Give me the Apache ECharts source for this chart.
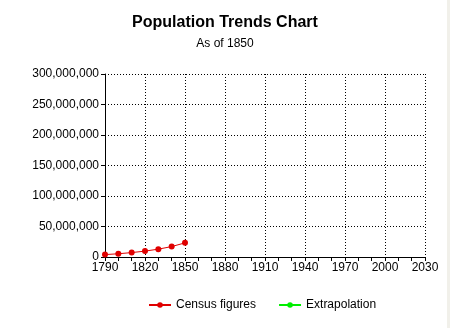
<!DOCTYPE html>
<html><head><meta charset="utf-8">
<script src="https://cdn.jsdelivr.net/npm/echarts@6/dist/echarts.min.js"></script>
<style>html,body{margin:0;padding:0;background:#fff}#c{width:450px;height:328px}</style>
</head><body><div id="c"></div>
<script>
const years = [1790, 1800, 1810, 1820, 1830, 1840, 1850];
const census = [3929214, 5308483, 7239881, 9638453, 12866020, 17069453, 23191876];
const extrapolationYears = [];
const extrapolation = [];
const xTicks = [1790, 1820, 1850, 1880, 1910, 1940, 1970, 2000, 2030];
const yTicks = [0, 50000000, 100000000, 150000000, 200000000, 250000000, 300000000];

const font = 'Liberation Sans, Arial, sans-serif';
const chart = echarts.init(document.getElementById('c'), null, {renderer: 'canvas'});
chart.setOption({
  animation: false,
  backgroundColor: '#fff',
  graphic: [{type: 'rect', right: 0, top: 0, shape: {width: 3, height: 328}, style: {fill: '#f1f0ea'}}],
  title: {
    text: 'Population Trends Chart', subtext: 'As of 1850', left: 'center', top: 10,
    itemGap: 7,
    textStyle: {fontFamily: font, fontSize: 16, fontWeight: 'bold', color: '#000'},
    subtextStyle: {fontFamily: font, fontSize: 12, color: '#000'}
  },
  legend: {
    bottom: 12, left: 143, itemWidth: 22, itemHeight: 7, itemGap: 22,
    textStyle: {fontFamily: font, fontSize: 12, color: '#000'},
    data: ['Census figures', 'Extrapolation']
  },
  grid: {left: 105, right: 25, top: 74, bottom: 71},
  xAxis: {
    type: 'value', min: xTicks[0], max: xTicks[xTicks.length - 1], interval: 30,
    axisLine: {lineStyle: {color: '#000', width: 1}},
    axisTick: {show: true, length: 4, lineStyle: {color: '#000'}},
    minorTick: {show: true, splitNumber: 3, length: 4, lineStyle: {color: '#000'}},
    axisLabel: {fontFamily: font, fontSize: 12, color: '#000', margin: 5, formatter: v => String(v)},
    splitLine: {show: true, lineStyle: {color: '#000', type: [1, 2], width: 1}}
  },
  yAxis: {
    type: 'value', min: yTicks[0], max: yTicks[yTicks.length - 1], interval: 50000000,
    axisLine: {show: true, lineStyle: {color: '#000', width: 1}},
    axisTick: {show: true, length: 4, lineStyle: {color: '#000'}},
    axisLabel: {fontFamily: font, fontSize: 12, color: '#000', margin: 6,
      formatter: v => v.toLocaleString('en-US')},
    splitLine: {show: true, lineStyle: {color: '#000', type: [1, 2], width: 1}}
  },
  series: [
    {name: 'Census figures', type: 'line', data: years.map((y, i) => [y, census[i]]),
     symbol: 'circle', symbolSize: 6, showAllSymbol: true,
     itemStyle: {color: '#e00000'}, lineStyle: {color: '#e00000', width: 1}},
    {name: 'Extrapolation', type: 'line', data: extrapolationYears.map((y, i) => [y, extrapolation[i]]),
     symbol: 'circle', symbolSize: 6,
     itemStyle: {color: '#00ee00'}, lineStyle: {color: '#00ee00', width: 1}}
  ]
});
</script></body></html>
